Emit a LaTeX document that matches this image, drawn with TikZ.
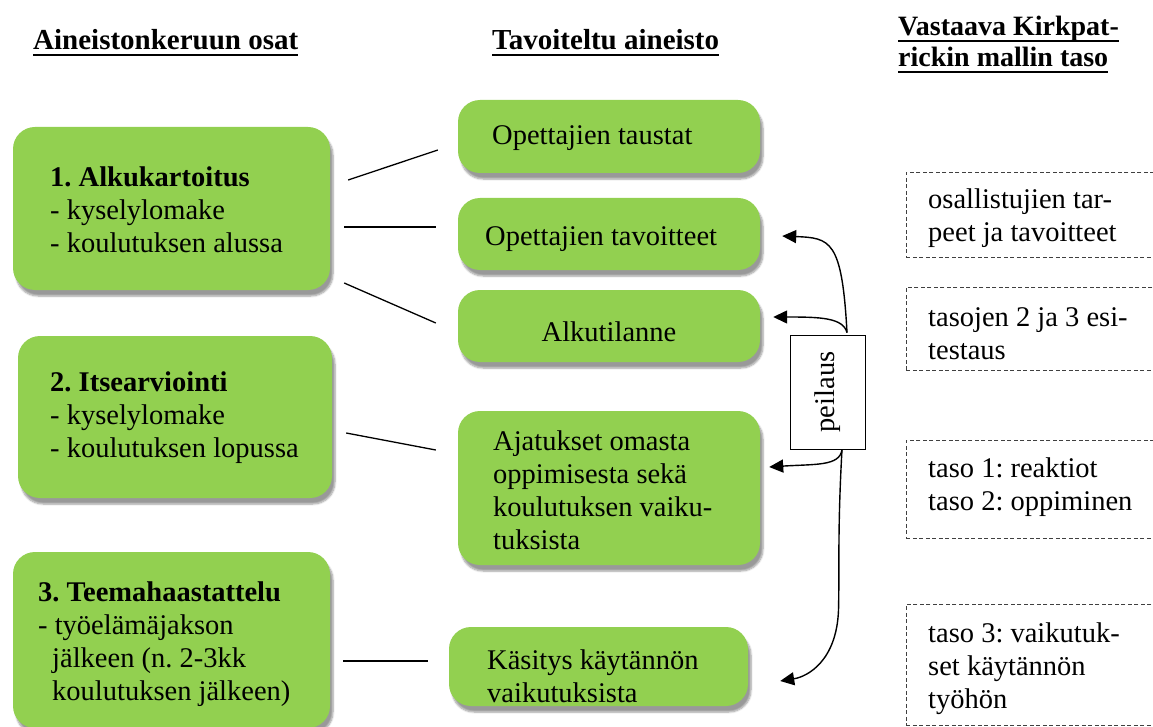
\documentclass[tikz,border=0pt]{standalone}
\usepackage{fontspec}
\setmainfont{Liberation Serif}
\usepackage{graphicx}
\usetikzlibrary{calc,arrows.meta,shadows.blur}
\definecolor{boxgreen}{RGB}{146,208,80}
\tikzset{
  txt/.style={font=\fontsize{28.5}{33}\selectfont},
  gbox/.style={fill=boxgreen, rounded corners=22pt, inner sep=0pt,
    blur shadow={shadow xshift=3pt, shadow yshift=-6pt, shadow blur steps=6, shadow opacity=40}},
  dbox/.style={draw=black!75, dash pattern=on 4pt off 2.5pt, line width=0.8pt,
    anchor=north west, inner sep=0pt, minimum width=270pt},
  btxt/.style={txt, align=left, anchor=west, inner sep=0pt},
  link/.style={line width=1.3pt},
  arr/.style={line width=1.4pt, -{Triangle[length=14pt,width=13pt]}},
  head/.style={font=\fontsize{29}{33}\selectfont\bfseries, anchor=base west, inner sep=0pt},
  hline/.style={line width=2.5pt}
}
\begin{document}
\frenchspacing
\begin{tikzpicture}[x=1pt,y=-1pt]
\useasboundingbox (0,0) rectangle (1153,727);

% column headings
\node[head] (h1) at (33,50) {Aineistonkeruun osat};
\node[head] (h2) at (492,50) {Tavoiteltu aineisto};
\node[head, font=\fontsize{28}{33}\selectfont\bfseries] (h3a) at (898,36) {Vastaava Kirkpat-};
\node[head, font=\fontsize{28}{33}\selectfont\bfseries] (h3b) at (898,67) {rickin mallin taso};
\foreach \h in {h1,h2,h3a,h3b}
  \draw[hline] ($(\h.base west)+(0,5)$) -- ($(\h.base east)+(0,5)$);

% data collection phases
\node[gbox, minimum width=317pt, minimum height=163pt] (B1) at (171.5,208.5) {};
\node[btxt] (B1t) at (50,210) {\textbf{1. Alkukartoitus}\\- kyselylomake\\- koulutuksen alussa};
\node[gbox, minimum width=314pt, minimum height=162pt] (B2) at (175,417) {};
\node[btxt] (B2t) at (50,418) {\textbf{2. Itsearviointi}\\- kyselylomake\\- koulutuksen lopussa};
\node[gbox, minimum width=317pt, minimum height=176pt] (B3) at (171.5,640) {};
\node[btxt] (B3t) at (38,644.5) {\textbf{3. Teemahaastattelu}\\- työelämäjakson\\\hspace*{14pt}jälkeen (n. 2-3kk\\\hspace*{14pt}koulutuksen jälkeen)};

% targeted material
\node[gbox, minimum width=302pt, minimum height=73pt] (M1) at (609,136.5) {};
\node[btxt] (M1t) at (492,138) {Opettajien taustat};
\node[gbox, minimum width=302pt, minimum height=72pt] (M2) at (609,234) {};
\node[btxt] (M2t) at (485,239) {Opettajien tavoitteet};
\node[gbox, minimum width=302pt, minimum height=72pt] (M3) at (609,326) {};
\node[txt, inner sep=0pt] (M3t) at (609,332) {Alkutilanne};
\node[gbox, minimum width=302pt, minimum height=154pt] (M4) at (609,488) {};
\node[btxt] (M4t) at (493,490) {Ajatukset omasta\\oppimisesta sekä\\koulutuksen vaiku-\\tuksista};
\node[gbox, minimum width=299pt, minimum height=79pt] (M5) at (598.5,666.5) {};
\node[btxt] (M5t) at (487,676) {Käsitys käytännön\\vaikutuksista};

% Kirkpatrick levels
\node[dbox, minimum height=85pt]  (D1) at (906,172) {};
\node[btxt] (D1t) at (928,218) {osallistujien tar-\\peet ja tavoitteet};
\node[dbox, minimum height=83pt]  (D2) at (906,287) {};
\node[btxt] (D2t) at (928,334) {tasojen 2 ja 3 esi-\\testaus};
\node[dbox, minimum height=98pt]  (D3) at (906,440) {};
\node[btxt] (D3t) at (928,487) {taso 1: reaktiot\\taso 2: oppiminen};
\node[dbox, minimum height=121pt] (D4) at (906,604) {};
\node[btxt] (D4t) at (928,669) {taso 3: vaikutuk-\\set käytännön\\työhön};

% mirroring box
\node[txt, draw, line width=0.8pt, fill=white, minimum width=75pt, minimum height=114pt, inner sep=0pt]
  (P) at (827.5,392) {\rotatebox{90}{peilaus}};

% links between phases and material
\draw[link] ($(B1.east)+(18,-28.5)$) -- ($(M1.west)+(-20,13.5)$);
\draw[link] ($(B1.east)+(14,18.5)$) -- ($(M2.west)+(-22,-7)$);
\draw[link] ($(B1.east)+(14,74.5)$) -- ($(M3.west)+(-22,-3)$);
\draw[link] ($(B2.east)+(14,16)$) -- ($(M4.west)+(-22,-38)$);
\draw[link] ($(B3.east)+(13,21)$) -- ($(M5.west)+(-21,-5.5)$);

% mirroring arrows
\draw[arr] ($(P.north)+(19.5,-2)$) .. controls ($(P.north)+(14.5,-95)$) and ($(M2.east)+(70,4)$) .. ($(M2.east)+(22,2)$);
\draw[arr] ($(P.north)+(19.5,-2)$) .. controls ($(P.north)+(15.5,-17)$) and ($(M3.east)+(60,-9)$) .. ($(M3.east)+(13,-9)$);
\draw[arr] ($(P.south)+(14.5,0)$) .. controls ($(P.south)+(12.5,17)$) and ($(M4.east)+(55,-24)$) .. ($(M4.east)+(9,-21)$);
\coordinate (bend) at ($(P.south)+(11,161)$);
\draw[arr] ($(P.south)+(14.5,0)$) .. controls ($(P.south)+(10,80)$) and ($(P.south)+(12,120)$) .. (bend)
  .. controls ($(bend)+(-2,50)$) and ($(M5.east)+(60,10)$) .. ($(M5.east)+(32,14.5)$);
\end{tikzpicture}
\end{document}
